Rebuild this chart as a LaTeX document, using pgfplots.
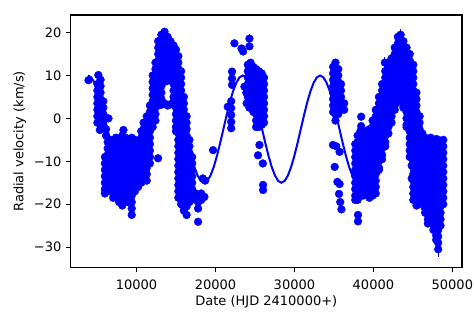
\documentclass[border=0pt]{standalone}
\usepackage{pgfplots}
\pgfplotsset{compat=1.18}
\usepackage{fontspec}
\setmainfont{DejaVu Sans}
\begin{document}
\begin{tikzpicture}
\useasboundingbox (0,0) rectangle (474bp,316bp);
\begin{axis}[
  at={(70.7bp,48.3bp)}, anchor=south west,
  scale only axis, width=391.3bp, height=252.7bp,
  xmin=1670, xmax=51220, ymin=-34.8, ymax=24.1,
  scaled x ticks=false, scaled y ticks=false,
  font=\fontsize{13bp}{15bp}\selectfont,
  axis line style={line width=1.05bp, black},
  tick style={line width=1.05bp, black},
  tick align=outside, major tick length=4.6bp,
  xtick={10000,20000,30000,40000,50000},
  xticklabels={10000,20000,30000,40000,50000},
  ytick={-30,-20,-10,0,10,20},
  yticklabels={−30,−20,−10,0,10,20},
  xtick pos=bottom, ytick pos=left,
  xticklabel style={anchor=north, inner sep=0pt, yshift=-7.6bp},
  yticklabel style={anchor=east, inner sep=0pt, xshift=-4.6bp},
  every axis x label/.style={at={(axis description cs:0.5,0)}, anchor=north, inner sep=0pt, yshift=-27.8bp},
  every axis y label/.style={at={(axis description cs:-0.13,0.5)}, rotate=90, anchor=center, inner sep=0pt},
  xlabel={Date (HJD 2410000+)},
  ylabel={Radial velocity (km/s)},
  clip=true,
]
\addplot[only marks, mark=*, mark size=3.9bp, blue, mark options={draw=none, fill=blue}] table[row sep=\\] {
x y\\
3920 8.9\\5170 10.1\\5450 9\\
5050 8\\5050 6.5\\5050 5\\5050 3.5\\5050 2\\5050 0.5\\5050 -1\\
5450 7.5\\5450 6\\5450 4.5\\5450 3\\5450 1.5\\5450 0\\5450 -1.5\\5360 -2.7\\
5800 4\\5800 2.5\\5800 1\\5800 -0.5\\5800 -2\\
6150 -2.5\\6150 -4\\6450 0\\
6000 -9\\6000 -10.5\\6000 -12\\6000 -13.5\\6000 -15\\6000 -16.5\\6000 -17.5\\
6350 -5.5\\6350 -7\\6350 -8.5\\6350 -10\\6350 -11.5\\6350 -13\\6350 -14.5\\6350 -16\\6350 -17\\
6700 -5\\6700 -6.5\\6700 -8\\6700 -9.5\\6700 -11\\6700 -12.5\\6700 -14\\6700 -15.5\\6700 -17\\
7050 -5.5\\7050 -7\\7050 -8.5\\7050 -10\\7050 -11.5\\7050 -13\\7050 -14.5\\7050 -16\\7050 -17.5\\7050 -18.5\\
7400 -4.5\\7400 -6\\7400 -7.5\\7400 -9\\7400 -10.5\\7400 -12\\7400 -13.5\\7400 -15\\7400 -16.5\\7400 -18\\
7800 -5\\7800 -6.5\\7800 -8\\7800 -9.5\\7800 -11\\7800 -12.5\\7800 -14\\7800 -15.5\\7800 -17\\7800 -18.5\\7800 -19.5\\
8200 -4\\8200 -5.5\\8200 -7\\8200 -8.5\\8200 -10\\8200 -11.5\\8200 -13\\8200 -14.5\\8200 -16\\8200 -17.5\\8200 -19\\8200 -20.3\\
8350 -2.7\\
8600 -4.5\\8600 -6\\8600 -7.5\\8600 -9\\8600 -10.5\\8600 -12\\8600 -13.5\\8600 -15\\8600 -16.5\\8600 -18\\8600 -19.5\\
9000 -5\\9000 -6.5\\9000 -8\\9000 -9.5\\9000 -11\\9000 -12.5\\9000 -14\\9000 -15.5\\9000 -17\\9000 -18.5\\9000 -19.5\\
9400 -4.5\\9400 -6\\9400 -7.5\\9400 -9\\9400 -10.5\\9400 -12\\9400 -13.5\\9400 -15\\9400 -16.5\\9400 -18\\9400 -19.5\\9400 -21\\9400 -22.5\\
9800 -5\\9800 -6.5\\9800 -8\\9800 -9.5\\9800 -11\\9800 -12.5\\9800 -14\\9800 -15.5\\9800 -17\\
10200 -5.5\\10200 -7\\10200 -8.5\\10200 -10\\10200 -11.5\\10200 -13\\10200 -14.5\\10200 -16\\
10600 -3\\10600 -4.5\\10600 -6\\10600 -7.5\\10600 -9\\10600 -10.5\\10600 -12\\10600 -13.5\\10600 -15\\
10900 -1\\10900 -2.5\\10900 -4\\10900 -5.5\\10900 -7\\10900 -8.5\\10900 -10\\10900 -11.5\\10900 -13\\10900 -14.5\\
11300 0.5\\11300 -1\\11300 -2.5\\11300 -4\\11300 -5.5\\11300 -7\\11300 -8.5\\11300 -10\\11300 -11.5\\11300 -13\\11300 -14.5\\
11700 3\\11700 1.5\\11700 0\\11700 -1.5\\11700 -3\\11700 -4.5\\11700 -6\\11700 -7.5\\11700 -9\\11700 -10.5\\
12050 10\\12050 8.5\\12050 7\\12050 5.5\\12050 4\\12050 2.5\\12050 1\\12050 -0.5\\12050 -2\\
12400 13\\12400 11.5\\12400 10\\12400 8.5\\12400 7\\12400 5.5\\12400 4\\12400 2.5\\12400 1\\12400 -0.5\\
12750 18\\12750 16.5\\12750 15\\12750 13.5\\12750 12\\12750 10.5\\12750 9\\12750 7.5\\12750 6\\12750 4.5\\12750 3\\
12730 -9.3\\
13150 19.5\\13150 18\\13150 16.5\\13150 15\\13150 13.5\\13150 12\\13150 10.5\\13150 9\\13150 7.5\\13150 6\\13150 4.5\\13150 3.2\\
13550 20.2\\13550 18.7\\13550 17.2\\13550 15.7\\13550 14.2\\13550 12.7\\13550 11.2\\13550 9.7\\13550 8.5\\13550 3.5\\
13950 19\\13950 17.5\\13950 16\\13950 14.5\\13950 13\\13950 11.5\\13950 10\\13950 8.8\\13950 3\\
14300 18\\14300 16.5\\14300 15\\14300 13.5\\14300 12\\14300 10.5\\14300 9\\14300 3.3\\
14700 17\\14700 15.5\\14700 14\\14700 12.5\\14700 11\\14700 9.5\\14700 8\\14700 6.5\\14700 5\\14700 3.8\\
15000 16\\15000 14.5\\15000 13\\15000 11.5\\15000 10\\15000 8.5\\15000 7\\15000 5.5\\15000 4\\15000 2.5\\15000 1\\15000 -0.5\\15000 -2\\15000 -3\\
15300 14.5\\15300 13\\15300 11.5\\15300 10\\15300 8.5\\15300 7\\15300 5.5\\15300 4\\15300 2.5\\15300 1\\15300 -0.5\\15300 -2\\15300 -3.5\\15300 -5\\15300 -6.5\\15300 -8\\15300 -9.5\\15300 -11\\15300 -12.5\\15300 -14\\15300 -15.5\\15300 -17\\15300 -18.5\\
15650 11\\15650 9.5\\15650 8\\15650 6.5\\15650 5\\15650 3.5\\15650 2\\15650 0.5\\15650 -1\\15650 -2.5\\15650 -4\\15650 -5.5\\15650 -7\\15650 -8.5\\15650 -10\\15650 -11.5\\15650 -13\\15650 -14.5\\15650 -16\\15650 -17.5\\15650 -19\\15650 -20\\
16000 5\\16000 3.5\\16000 2\\16000 0.5\\16000 -1\\16000 -2.5\\16000 -4\\16000 -5.5\\16000 -7\\16000 -8.5\\16000 -10\\16000 -11.5\\16000 -13\\16000 -14.5\\16000 -16\\16000 -17.5\\16000 -19\\16000 -20.5\\16000 -21.5\\
16350 0.5\\16350 -1\\16350 -2.5\\16350 -4\\16350 -5.5\\16350 -7\\16350 -8.5\\16350 -10\\16350 -11.5\\16350 -13\\16350 -14.5\\16350 -16\\16350 -17.5\\16350 -19\\16350 -20.5\\16350 -22.5\\
16700 -5\\16700 -6.5\\16700 -8\\16700 -9.5\\16700 -11\\16700 -12.5\\16700 -14\\16700 -15.5\\16700 -17\\16700 -18.5\\16700 -19.5\\
17050 -9\\17050 -10.5\\17050 -12\\17050 -13.5\\17050 -15\\17050 -16.5\\17050 -17.5\\
17500 -17.5\\17500 -19\\
17800 -18\\17800 -19.5\\17800 -21\\17800 -24.1\\
18200 -17.5\\18200 -19\\
18600 -18.3\\18400 -14\\18700 -14.5\\19700 -7.4\\
21560 2.7\\
21990 4\\21990 2.4\\21990 0.8\\21990 -0.8\\21990 -2.3\\
22100 10.9\\22100 9.3\\22100 7.8\\
22400 17.5\\23300 16.3\\23500 15.6\\24300 18.6\\24300 16.8\\
23670 7.4\\23900 6\\23950 3.5\\24300 2.5\\
24100 12.5\\24100 11\\24100 9.5\\24100 8\\24100 6.5\\24100 5\\
24450 13\\24450 11.5\\24450 10\\24450 8.5\\24450 7\\24450 5.5\\24450 4\\
24800 12\\24800 10.5\\24800 9\\24800 7.5\\24800 6\\24800 4.5\\24800 3\\24800 1.5\\
25150 11.5\\25150 10\\25150 8.5\\25150 7\\25150 5.5\\25150 4\\25150 2.5\\25150 1\\25150 -0.5\\25150 -2\\
25500 11\\25500 9.5\\25500 8\\25500 6.5\\25500 5\\25500 3.5\\25500 2\\25500 0.5\\25500 -1\\25500 -2\\
25850 10.5\\25850 9\\25850 7.5\\25850 6\\25850 4.5\\25850 3\\25850 1.5\\25850 0\\25850 -1.5\\
26150 9.5\\26150 8\\26150 6.5\\26150 5\\26150 3.5\\26150 2\\26150 0.5\\26150 -1\\
25570 -6.2\\25390 -8.6\\26000 -10.5\\26030 -15.5\\26030 -16.7\\
34900 12\\34900 10.5\\34900 9\\34900 7.5\\34900 6\\34900 4.5\\34900 3\\34900 1.5\\
35200 13\\35200 11.5\\35200 10\\35200 8.5\\35200 7\\35200 5.5\\35200 4\\35200 2.5\\35200 1\\35200 -0.5\\
35550 11.5\\35550 10\\35550 8.5\\35550 7\\35550 5.5\\35550 4\\35550 2.5\\35550 1\\
35900 8\\35900 6.5\\35900 5\\35900 3.5\\35900 2\\
36300 3.5\\36300 2\\
34880 -6.2\\35300 -6.5\\35720 -7.8\\35100 -11.3\\35440 -14.8\\35720 -15.3\\35650 -17.6\\35800 -19.5\\35950 -21.2\\
37700 -6\\37700 -7.5\\37700 -9\\37700 -10.5\\37700 -12\\37700 -13.5\\37700 -15\\37700 -16.5\\37700 -18\\37700 -19\\
38000 -4\\38000 -5.5\\38000 -7\\38000 -8.5\\38000 -10\\38000 -11.5\\38000 -13\\38000 -14.5\\38000 -16\\38000 -17.5\\38000 -19\\
38050 -22.5\\38050 -24\\
38450 0.4\\38450 -1.8\\
38350 -3\\38350 -4.5\\38350 -6\\38350 -7.5\\38350 -9\\38350 -10.5\\38350 -12\\38350 -13.5\\38350 -15\\38350 -16.5\\38350 -18\\
38700 -3.5\\38700 -5\\38700 -6.5\\38700 -8\\38700 -9.5\\38700 -11\\38700 -12.5\\38700 -14\\38700 -15.5\\38700 -17\\38700 -18\\
39100 -3\\39100 -4.5\\39100 -6\\39100 -7.5\\39100 -9\\39100 -10.5\\39100 -12\\39100 -13.5\\39100 -15\\39100 -16.5\\39100 -17.5\\
39500 -2.5\\39500 -4\\39500 -5.5\\39500 -7\\39500 -8.5\\39500 -10\\39500 -11.5\\39500 -13\\39500 -14.5\\39500 -16\\39500 -17.5\\39500 -18.5\\
39900 -0.5\\39900 -2\\39900 -3.5\\39900 -5\\39900 -6.5\\39900 -8\\39900 -9.5\\39900 -11\\39900 -12.5\\39900 -14\\39900 -15.5\\39900 -17\\39900 -18\\
40300 2\\40300 0.5\\40300 -1\\40300 -2.5\\40300 -4\\40300 -5.5\\40300 -7\\40300 -8.5\\40300 -10\\40300 -11.5\\40300 -13\\40300 -14.5\\40300 -16\\40300 -17.5\\
40700 5\\40700 3.5\\40700 2\\40700 0.5\\40700 -1\\40700 -2.5\\40700 -4\\40700 -5.5\\40700 -7\\40700 -8.5\\40700 -10\\40700 -11.5\\40700 -12\\
41100 8\\41100 6.5\\41100 5\\41100 3.5\\41100 2\\41100 0.5\\41100 -1\\41100 -2.5\\41100 -4\\41100 -5.5\\41100 -7\\41100 -8.5\\41100 -9.5\\
41450 13\\
41500 11\\41500 9.5\\41500 8\\41500 6.5\\41500 5\\41500 3.5\\41500 2\\41500 0.5\\41500 -1\\41500 -2.5\\41500 -4\\41500 -5.5\\41500 -6.5\\
41900 13\\41900 11.5\\41900 10\\41900 8.5\\41900 7\\41900 5.5\\41900 4\\41900 2.5\\41900 1\\41900 -0.5\\41900 -2\\41900 -3.5\\
42300 14\\42300 12.5\\42300 11\\42300 9.5\\42300 8\\42300 6.5\\42300 5\\42300 3.5\\42300 2\\42300 0.5\\42300 -1\\
42700 16.5\\42700 15\\42700 13.5\\42700 12\\42700 10.5\\42700 9\\42700 7.5\\42700 6\\42700 4.5\\42700 3\\42700 2\\
43100 19\\43100 17.5\\43100 16\\43100 14.5\\43100 13\\43100 11.5\\43100 10\\43100 8.5\\43100 7\\43100 5.5\\43100 4\\
43450 19.5\\43450 18\\43450 16.5\\43450 15\\43450 13.5\\43450 12\\43450 10.5\\43450 9\\43450 7.5\\43450 6\\43450 5.5\\
43800 18\\43800 16.5\\43800 15\\43800 13.5\\43800 12\\43800 10.5\\43800 9\\43800 7.5\\43800 6\\43800 4.5\\43800 3\\43800 2.5\\
44200 16.5\\44200 15\\44200 13.5\\44200 12\\44200 10.5\\44200 9\\44200 7.5\\44200 6\\44200 4.5\\44200 3\\44200 1.5\\44200 0\\44200 -1.5\\44200 -2\\
44600 15\\44600 13.5\\44600 12\\44600 10.5\\44600 9\\44600 7.5\\44600 6\\44600 4.5\\44600 3\\44600 1.5\\44600 0\\44600 -1.5\\44600 -3\\44600 -4.5\\44600 -6\\44600 -7.5\\44600 -9\\
44850 -11\\44850 -14\\
45050 12.5\\45050 11\\45050 9.5\\45050 8\\45050 6.5\\45050 5\\45050 3.5\\45050 2\\45050 0.5\\45050 -1\\45050 -2.5\\45050 -4\\45050 -5.5\\45050 -7\\45050 -8.5\\45050 -10\\45050 -11.5\\45050 -13\\45050 -14.5\\45050 -16\\45050 -17.5\\45050 -19\\
45450 6\\45450 4.5\\45450 3\\45450 1.5\\45450 0\\45450 -1.5\\45450 -3\\45450 -4.5\\45450 -6\\45450 -7.5\\45450 -9\\45450 -10.5\\45450 -12\\45450 -13.5\\45450 -15\\45450 -16.5\\45450 -18\\45450 -19.5\\45450 -20.3\\
45850 0.5\\45850 -1\\45850 -2.5\\45850 -4\\45850 -5.5\\45850 -7\\45850 -8.5\\45850 -10\\45850 -11.5\\45850 -13\\45850 -14.5\\45850 -16\\45850 -17.5\\45850 -19\\45850 -20\\
46200 -3.5\\46200 -5\\46200 -6.5\\46200 -8\\46200 -9.5\\46200 -11\\46200 -12.5\\46200 -14\\46200 -15.5\\46200 -17\\46200 -18.5\\46200 -19.5\\
46550 -4.5\\46550 -6\\46550 -7.5\\46550 -9\\46550 -10.5\\46550 -12\\46550 -13.5\\46550 -15\\46550 -16.5\\46550 -18\\46550 -19.5\\46550 -21\\46550 -22\\
46900 -5.5\\46900 -7\\46900 -8.5\\46900 -10\\46900 -11.5\\46900 -13\\46900 -14.5\\46900 -16\\46900 -17.5\\46900 -19\\46900 -20.5\\46900 -22\\46900 -23.5\\46900 -24.5\\
47250 -4.5\\47250 -6\\47250 -7.5\\47250 -9\\47250 -10.5\\47250 -12\\47250 -13.5\\47250 -15\\47250 -16.5\\47250 -18\\47250 -19.5\\47250 -21\\47250 -22.5\\47250 -24\\
47600 -5.5\\47600 -7\\47600 -8.5\\47600 -10\\47600 -11.5\\47600 -13\\47600 -14.5\\47600 -16\\47600 -17.5\\47600 -19\\47600 -20.5\\47600 -22\\47600 -23.5\\47600 -25\\47600 -26\\
47950 -4.8\\47950 -6.3\\47950 -7.8\\47950 -9.3\\47950 -10.8\\47950 -12.3\\47950 -13.8\\47950 -15.3\\47950 -16.8\\47950 -18.3\\47950 -19.8\\47950 -21.3\\47950 -22.8\\47950 -24.3\\47950 -25.8\\47950 -27.3\\47950 -28.3\\
48200 -5\\48200 -6.5\\48200 -8\\48200 -9.5\\48200 -11\\48200 -12.5\\48200 -14\\48200 -15.5\\48200 -17\\48200 -18.5\\48200 -20\\48200 -21.5\\48200 -23\\48200 -24.5\\48200 -26\\48200 -27.5\\48200 -29\\48200 -30.5\\
48500 -5.5\\48500 -7\\48500 -8.5\\48500 -10\\48500 -11.5\\48500 -13\\48500 -14.5\\48500 -16\\48500 -17.5\\48500 -19\\48500 -20.5\\48500 -22\\48500 -23.5\\48500 -25\\
48850 -5\\48850 -6.5\\48850 -8\\48850 -9.5\\48850 -11\\48850 -12.5\\48850 -14\\48850 -15.5\\48850 -17\\48850 -18.5\\48850 -20\\
};
\addplot[only marks, mark=none, blue, line width=1.3bp, error bars/.cd, y dir=both, y explicit, error bar style={line width=1.3bp, blue}, error mark=none] table[row sep=\\, y error=e] {
x y e\\
48200 -30.5 1.7\\
43450 19.5 1.3\\
41450 13 1.4\\
24300 18.6 1.0\\
};
\addplot[blue, line width=2bp] table[row sep=\\] {
t v\\
3855 10\\4263 9.574\\4672 8.325\\5080 6.339\\5488 3.75\\5897 0.735\\6305 -2.5\\6713 -5.735\\7122 -8.75\\7530 -11.339\\7938 -13.325\\8347 -14.574\\
8755 -15\\9163 -14.574\\9572 -13.325\\9980 -11.339\\10388 -8.75\\10797 -5.735\\11205 -2.5\\11613 0.735\\12022 3.75\\12430 6.339\\12838 8.325\\13247 9.574\\
13655 10\\14063 9.574\\14472 8.325\\14880 6.339\\15288 3.75\\15697 0.735\\16105 -2.5\\16513 -5.735\\16922 -8.75\\17330 -11.339\\17738 -13.325\\18147 -14.574\\
18555 -15\\18963 -14.574\\19372 -13.325\\19780 -11.339\\20188 -8.75\\20597 -5.735\\21005 -2.5\\21413 0.735\\21822 3.75\\22230 6.339\\22638 8.325\\23047 9.574\\
23455 10\\23863 9.574\\24272 8.325\\24680 6.339\\25088 3.75\\25497 0.735\\25905 -2.5\\26313 -5.735\\26722 -8.75\\27130 -11.339\\27538 -13.325\\27947 -14.574\\
28355 -15\\28763 -14.574\\29172 -13.325\\29580 -11.339\\29988 -8.75\\30397 -5.735\\30805 -2.5\\31213 0.735\\31622 3.75\\32030 6.339\\32438 8.325\\32847 9.574\\
33255 10\\33663 9.574\\34072 8.325\\34480 6.339\\34888 3.75\\35297 0.735\\35705 -2.5\\36113 -5.735\\36522 -8.75\\36930 -11.339\\37338 -13.325\\37747 -14.574\\
38155 -15\\38563 -14.574\\38972 -13.325\\39380 -11.339\\39788 -8.75\\40197 -5.735\\40605 -2.5\\41013 0.735\\41422 3.75\\41830 6.339\\42238 8.325\\42647 9.574\\
43055 10\\43463 9.574\\43872 8.325\\44280 6.339\\44688 3.75\\45097 0.735\\45505 -2.5\\45913 -5.735\\46322 -8.75\\46730 -11.339\\47138 -13.325\\47547 -14.574\\
47955 -15\\48363 -14.574\\48772 -13.325\\
};
\end{axis}
\end{tikzpicture}
\end{document}
